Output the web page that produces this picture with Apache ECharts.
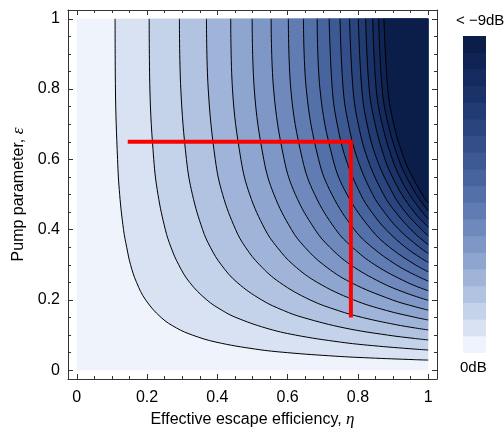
<!DOCTYPE html>
<html>
<head>
<meta charset="utf-8">
<script src="https://cdn.jsdelivr.net/npm/echarts@6/dist/echarts.min.js"></script>
<style>
html,body{margin:0;padding:0;background:#fff;}
#chart{width:504px;height:433px;}
</style>
</head>
<body>
<div id="chart"></div>
<script>
// ---- data ----
// tick values
const majorTicks = [0, 0.2, 0.4, 0.6, 0.8, 1];
const minorTicks = [0, 0.05, 0.1, 0.15, 0.2, 0.25, 0.3, 0.35, 0.4, 0.45, 0.5, 0.55, 0.6, 0.65, 0.7, 0.75, 0.8, 0.85, 0.9, 0.95, 1];
// plotted domain (escape efficiency eta, pump parameter epsilon)
const domainEta = [0, 1];
const domainEps = [0, 1];
// contour levels (squeezing, dB) - one line per 0.5 dB
const levelsDb = [0.5, 1, 1.5, 2, 2.5, 3, 3.5, 4, 4.5, 5, 5.5, 6, 6.5, 7, 7.5, 8, 8.5, 9];
// colour of each band (0 dB ... < -9 dB)
const bandColors = ['#eff4fc', '#d8e2f3', '#c4d2ea', '#b1c3e1', '#9fb4d8', '#8ea5cf', '#7e97c6', '#6f89bd',
  '#617cb3', '#5470a9', '#48649f', '#3d5994', '#334e89', '#2a447e', '#223b73', '#1b3268', '#152a5e', '#102454', '#0b1d49'];
// colour bar: one equal step per band
const barSteps = [1, 1, 1, 1, 1, 1, 1, 1, 1, 1, 1, 1, 1, 1, 1, 1, 1, 1, 1];
// contour lines, [eta, epsilon] points, from top edge to right edge
const contourLines = [
  [[.109,1],[.110,.8],[.116,.6],[.122,.5],[.133,.4],[.142,.35],[.153,.3],[.170,.25],[.196,.2],[.240,.15],[.284,.12],[.329,.1],[.396,.08],[.509,.06],[.599,.05],[.735,.04],[.832,.035],[.961,.03],[1,.0288]],
  [[.206,1],[.208,.8],[.219,.6],[.231,.5],[.252,.4],[.268,.35],[.290,.3],[.321,.25],[.370,.2],[.414,.17],[.453,.15],[.538,.12],[.622,.1],[.750,.08],[.841,.07],[.963,.06],[1,.0575]],
  [[.292,1],[.296,.8],[.312,.6],[.329,.5],[.358,.4],[.380,.35],[.411,.3],[.456,.25],[.526,.2],[.588,.17],[.644,.15],[.763,.12],[.884,.1],[.964,.09],[1,.0861]],
  [[.369,1],[.374,.8],[.394,.6],[.415,.5],[.452,.4],[.480,.35],[.520,.3],[.577,.25],[.664,.2],[.743,.17],[.813,.15],[.906,.13],[.964,.12],[1,.1146]],
  [[.438,1],[.443,.8],[.467,.6],[.492,.5],[.536,.4],[.570,.35],[.616,.3],[.684,.25],[.788,.2],[.881,.17],[.965,.15],[1,.1429]],
  [[.499,1],[.505,.8],[.532,.6],[.561,.5],[.611,.4],[.649,.35],[.702,.3],[.779,.25],[.898,.2],[.965,.18],[1,.1710]],
  [[.553,1],[.560,.8],[.590,.6],[.622,.5],[.678,.4],[.720,.35],[.779,.3],[.865,.25],[.936,.22],[1,.1988]],
  [[.602,1],[.609,.8],[.642,.6],[.677,.5],[.737,.4],[.784,.35],[.848,.3],[.940,.25],[1,.2262]],
  [[.645,1],[.653,.8],[.688,.6],[.726,.5],[.790,.4],[.840,.35],[.909,.3],[.964,.27],[1,.2534]],
  [[.684,1],[.692,.8],[.729,.6],[.769,.5],[.838,.4],[.890,.35],[.963,.3],[1,.2802]],
  [[.718,1],[.727,.8],[.741,.7],[.766,.6],[.808,.5],[.839,.45],[.880,.4],[.935,.35],[.978,.32],[1,.3064]],
  [[.749,1],[.758,.8],[.773,.7],[.799,.6],[.842,.5],[.875,.45],[.917,.4],[.975,.35],[1,.3323]],
  [[.776,1],[.786,.8],[.801,.7],[.828,.6],[.873,.5],[.907,.45],[.951,.4],[.984,.37],[1,.3576]],
  [[.801,1],[.811,.8],[.826,.7],[.854,.6],[.901,.5],[.935,.45],[.981,.4],[1,.3825]],
  [[.822,1],[.832,.8],[.849,.7],[.877,.6],[.898,.55],[.925,.5],[.960,.45],[.987,.42],[1,.4068]],
  [[.842,1],[.852,.8],[.869,.7],[.898,.6],[.919,.55],[.947,.5],[.983,.45],[1,.4305]],
  [[.859,1],[.869,.8],[.886,.7],[.916,.6],[.938,.55],[.966,.5],[.987,.47],[1,.4537]],
  [[.874,1],[.885,.8],[.902,.7],[.932,.6],[.955,.55],[.983,.5],[1,.4762]]
];
// red operating path
const redPathEta = [0.145, 0.78, 0.78];
const redPathEps = [0.65, 0.65, 0.15];
// colour bar labels
const barLabels = ['< \u22129dB', '0dB'];

// ---- chart ----
const FONT = 'Liberation Sans, Arial, sans-serif';
const axisMin = -0.025, axisMax = 1.025;
const frameColor = '#333';

function mkAxis(pos, major, withLabels, name, nameGap, labelMargin) {
  const a = {
    type: 'value', min: axisMin, max: axisMax, position: pos, gridIndex: 0,
    axisLine: { show: major, onZero: false, lineStyle: { color: frameColor, width: 1 } },
    axisTick: { show: true, inside: true, length: major ? 5 : 3, customValues: major ? majorTicks : minorTicks,
      lineStyle: { color: frameColor, width: 1 } },
    axisLabel: { show: withLabels, customValues: majorTicks, margin: labelMargin || 8, color: '#000', fontSize: 16, fontFamily: FONT },
    splitLine: { show: false },
    axisPointer: { show: false }
  };
  if (name) {
    a.name = name;
    a.nameLocation = 'middle';
    a.nameGap = nameGap;
    a.nameTextStyle = { color: '#000', fontSize: 16, fontFamily: FONT,
      rich: { i: { fontStyle: 'italic', fontFamily: 'Liberation Serif, serif', fontSize: 17, color: '#000' } } };
  }
  return a;
}

const series = [];
// base band (below the first contour)
series.push({
  type: 'line', data: domainEta.map(e => [e, domainEps[1]]), symbol: 'none', silent: true, animation: false,
  lineStyle: { opacity: 0, width: 0 },
  areaStyle: { color: bandColors[0], opacity: 1, origin: domainEps[0] }, z: 1
});
contourLines.forEach((pts, i) => {
  series.push({
    type: 'line', name: levelsDb[i] + ' dB', data: pts, symbol: 'none', silent: true, animation: false,
    smooth: 0.4,
    lineStyle: { color: '#000', width: 1 },
    areaStyle: { color: bandColors[i + 1], opacity: 1, origin: domainEps[1] }, z: 2
  });
});
series.push({
  type: 'line', data: redPathEta.map((e, i) => [e, redPathEps[i]]), symbol: 'none', silent: true, animation: false,
  lineStyle: { color: '#ff0000', width: 4, cap: 'butt', join: 'miter' }, z: 5
});
// colour bar: overlapping bars, each reaching the top of its band (drawn darkest first)
const barTops = [];
barSteps.reduce((acc, v) => { barTops.push(acc + v); return acc + v; }, 0);
for (let i = barTops.length - 1; i >= 0; i--) {
  series.push({
    type: 'bar', xAxisIndex: 4, yAxisIndex: 4, data: [barTops[i]], barWidth: '100%', barGap: '-100%', silent: true,
    itemStyle: { color: bandColors[i], borderWidth: 0, borderColor: bandColors[i], opacity: 1 },
    emphasis: { disabled: true }, animation: false
  });
}

const option = {
  animation: false,
  backgroundColor: '#fff',
  grid: [
    { left: 68, top: 10, width: 369, height: 369, containLabel: false, outerBoundsMode: 'none' },
    { left: 463, top: 36, width: 23, height: 317, containLabel: false, outerBoundsMode: 'none' }
  ],
  xAxis: [
    mkAxis('bottom', true, true, 'Effective escape efficiency, {i|\u03b7}', 31, 11),
    mkAxis('bottom', false, false),
    mkAxis('top', true, false),
    mkAxis('top', false, false),
    { type: 'category', gridIndex: 1, data: ['bar'], show: false, boundaryGap: true }
  ],
  yAxis: [
    mkAxis('left', true, true, 'Pump parameter, {i|\u03b5}', 38, 8),
    mkAxis('left', false, false),
    mkAxis('right', true, false),
    mkAxis('right', false, false),
    { type: 'value', gridIndex: 1, min: 0, max: barTops[barTops.length - 1], show: false }
  ],
  graphic: [
    { type: 'text', left: 456, top: 13, style: { text: barLabels[0], fill: '#000', font: '15px ' + FONT } },
    { type: 'text', left: 460, top: 360, style: { text: barLabels[1], fill: '#000', font: '15px ' + FONT } }
  ],
  series: series
};

const chart = echarts.init(document.getElementById('chart'), null, { renderer: 'canvas' });
chart.setOption(option);
</script>
</body>
</html>
